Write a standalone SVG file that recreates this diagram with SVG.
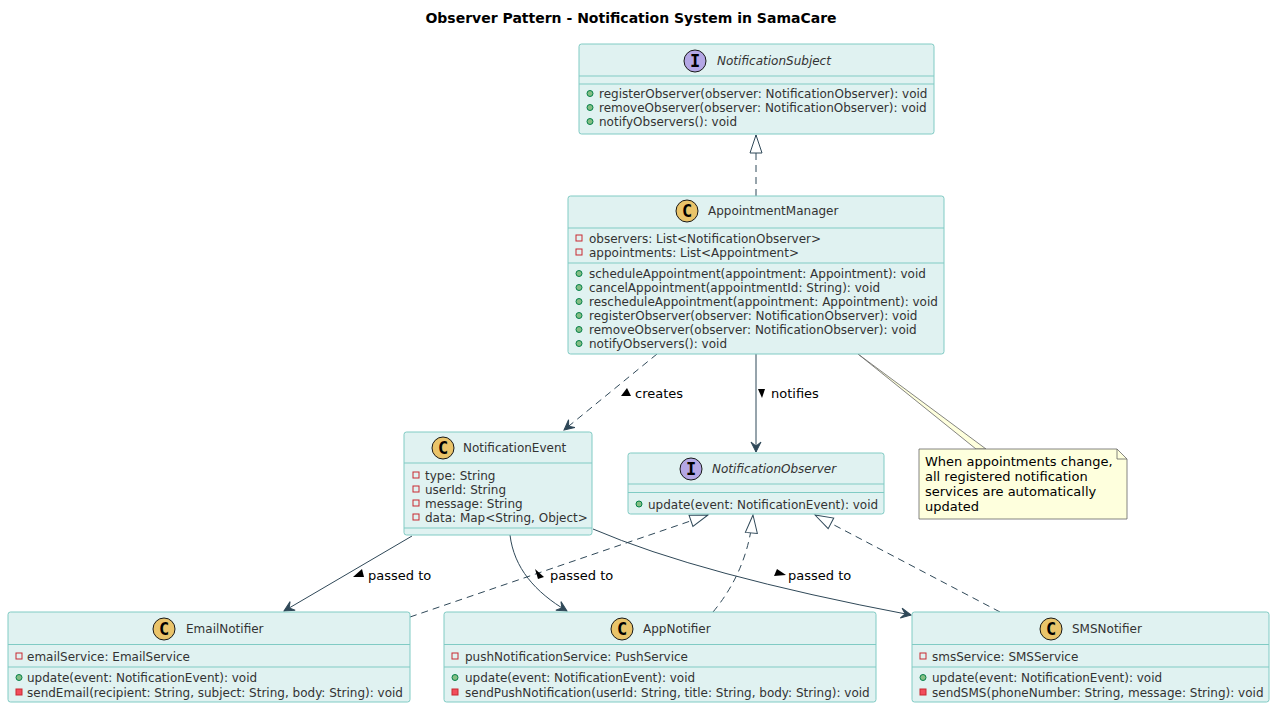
<svg xmlns="http://www.w3.org/2000/svg" width="1275" height="708" viewBox="0 0 1275 708">
<style>
.box{fill:#E0F2F1;stroke:#80CBC4;stroke-width:1}
.sep{stroke:#80CBC4;stroke-width:1}
.name{font-family:"DejaVu Sans",sans-serif;font-size:12px;fill:#333}
.ital{font-style:italic}
.mem{font-family:"DejaVu Sans",sans-serif;font-size:12px;fill:#333}
.pub{fill:#84BE84;stroke:#038048;stroke-width:1}
.privf{fill:none;stroke:#C82930;stroke-width:1}
.privm{fill:#F24D5C;stroke:#C82930;stroke-width:1}
.spotC{fill:#EAC46A;stroke:#181818;stroke-width:1}
.spotI{fill:#B4A7E5;stroke:#181818;stroke-width:1}
.spotL{font-family:"DejaVu Sans Mono",monospace;font-weight:bold;font-size:17px;fill:#000;text-anchor:middle}
.ln{fill:none;stroke:#2F4858;stroke-width:1}
.dash{stroke-dasharray:7,5}
.lbl{font-family:"DejaVu Sans",sans-serif;font-size:13px;fill:#000}
.tri{fill:#000}
</style>
<defs>
<marker id="arr" markerUnits="userSpaceOnUse" markerWidth="14" markerHeight="12" refX="11" refY="6" orient="auto" overflow="visible">
<path d="M11,6 L1,1 L5,6 L1,11 Z" fill="#2F4858" stroke="#2F4858" stroke-width="1"/>
</marker>
<marker id="real" markerUnits="userSpaceOnUse" markerWidth="22" markerHeight="16" refX="19" refY="7" orient="auto" overflow="visible">
<path d="M19,7 L1,1 L1,13 Z" fill="#fff" stroke="#2F4858" stroke-width="1"/>
</marker>
</defs>
<rect width="1275" height="708" fill="#fff"/>
<text x="631" y="23" font-family="DejaVu Sans,sans-serif" font-weight="bold" font-size="14" text-anchor="middle" fill="#000">Observer Pattern - Notification System in SamaCare</text>

<g id="connectors">
<path class="ln dash" d="M756,196 L756,135" marker-end="url(#real)"/>
<path class="ln dash" d="M657,354 L564,430" marker-end="url(#arr)"/>
<path class="ln" d="M756,354 L756,452" marker-end="url(#arr)"/>
<path class="ln" d="M412,536 L284,611" marker-end="url(#arr)"/>
<path class="ln" d="M510,535 C514,568 535,592 567,611" marker-end="url(#arr)"/>
<path class="ln" d="M593,529 Q700,575 911,615" marker-end="url(#arr)"/>
<path class="ln dash" d="M410,617 L708,515" marker-end="url(#real)"/>
<path class="ln dash" d="M713,612 Q748,570 753,515" marker-end="url(#real)"/>
<path class="ln dash" d="M1000,612 L815,515" marker-end="url(#real)"/>
<polygon points="858,354 976,449 986,449" fill="#FEFFDD" stroke="#666" stroke-width="0.8"/>
<polygon class="tri" points="621,396 627,388 631,396"/>
<text class="lbl" x="635" y="398">creates</text>
<polygon class="tri" points="758,389 765,389 762,398"/>
<text class="lbl" x="771" y="398">notifies</text>
<polygon class="tri" points="353,577 362,569 364,577"/>
<text class="lbl" x="368" y="580">passed to</text>
<polygon class="tri" points="535,569 544,577 538,579"/>
<text class="lbl" x="550" y="580">passed to</text>
<polygon class="tri" points="774,576 777,569 786,575"/>
<text class="lbl" x="788" y="580">passed to</text>
</g>

<g id="NotificationSubject">
<rect class="box" x="579" y="44" width="355" height="90" rx="2.5"/>
<circle class="spotI" cx="695" cy="61" r="11"/>
<text class="spotL" x="695" y="67">I</text>
<text class="name ital" x="717" y="65">NotificationSubject</text>
<line class="sep" x1="579" y1="76" x2="934" y2="76"/>
<line class="sep" x1="579" y1="84" x2="934" y2="84"/>
<circle class="pub" cx="590" cy="93.5" r="3"/>
<text class="mem" x="599" y="98">registerObserver(observer: NotificationObserver): void</text>
<circle class="pub" cx="590" cy="107.5" r="3"/>
<text class="mem" x="599" y="112">removeObserver(observer: NotificationObserver): void</text>
<circle class="pub" cx="590" cy="121.5" r="3"/>
<text class="mem" x="599" y="126">notifyObservers(): void</text>
</g>

<g id="AppointmentManager">
<rect class="box" x="568" y="196" width="376" height="158" rx="2.5"/>
<circle class="spotC" cx="687" cy="211" r="11"/>
<text class="spotL" x="687" y="217">C</text>
<text class="name" x="708" y="215">AppointmentManager</text>
<line class="sep" x1="568" y1="228" x2="944" y2="228"/>
<rect class="privf" x="576" y="235" width="6" height="6"/>
<text class="mem" x="589" y="242.5">observers: List&lt;NotificationObserver&gt;</text>
<rect class="privf" x="576" y="249" width="6" height="6"/>
<text class="mem" x="589" y="256.5">appointments: List&lt;Appointment&gt;</text>
<line class="sep" x1="568" y1="263" x2="944" y2="263"/>
<circle class="pub" cx="579" cy="273.5" r="3"/>
<text class="mem" x="589" y="278">scheduleAppointment(appointment: Appointment): void</text>
<circle class="pub" cx="579" cy="287.5" r="3"/>
<text class="mem" x="589" y="292">cancelAppointment(appointmentId: String): void</text>
<circle class="pub" cx="579" cy="301.5" r="3"/>
<text class="mem" x="589" y="306">rescheduleAppointment(appointment: Appointment): void</text>
<circle class="pub" cx="579" cy="315.5" r="3"/>
<text class="mem" x="589" y="320">registerObserver(observer: NotificationObserver): void</text>
<circle class="pub" cx="579" cy="329.5" r="3"/>
<text class="mem" x="589" y="334">removeObserver(observer: NotificationObserver): void</text>
<circle class="pub" cx="579" cy="343.5" r="3"/>
<text class="mem" x="589" y="348">notifyObservers(): void</text>
</g>

<g id="NotificationEvent">
<rect class="box" x="404" y="432" width="188" height="103" rx="2.5"/>
<circle class="spotC" cx="443" cy="448" r="11"/>
<text class="spotL" x="443" y="454">C</text>
<text class="name" x="463" y="452">NotificationEvent</text>
<line class="sep" x1="404" y1="463" x2="592" y2="463"/>
<rect class="privf" x="413" y="472" width="6" height="6"/>
<text class="mem" x="425" y="479.5">type: String</text>
<rect class="privf" x="413" y="486" width="6" height="6"/>
<text class="mem" x="425" y="493.5">userId: String</text>
<rect class="privf" x="413" y="500" width="6" height="6"/>
<text class="mem" x="425" y="507.5">message: String</text>
<rect class="privf" x="413" y="514" width="6" height="6"/>
<text class="mem" x="425" y="521.5">data: Map&lt;String, Object&gt;</text>
<line class="sep" x1="404" y1="528" x2="592" y2="528"/>
</g>

<g id="NotificationObserver">
<rect class="box" x="628" y="453" width="256" height="61" rx="2.5"/>
<circle class="spotI" cx="691" cy="469" r="11"/>
<text class="spotL" x="691" y="475">I</text>
<text class="name ital" x="712" y="473">NotificationObserver</text>
<line class="sep" x1="628" y1="484" x2="884" y2="484"/>
<line class="sep" x1="628" y1="492.5" x2="884" y2="492.5"/>
<circle class="pub" cx="639" cy="504" r="3"/>
<text class="mem" x="648" y="508.5">update(event: NotificationEvent): void</text>
</g>

<g id="Note">
<path d="M919,449 L1117,449 L1127,459 L1127,519 L919,519 Z" fill="#FEFFDD" stroke="#666" stroke-width="0.8"/>
<path d="M1117,449 L1117,459 L1127,459" fill="none" stroke="#666" stroke-width="0.8"/>
<text class="lbl" x="925" y="466">When appointments change,</text>
<text class="lbl" x="925" y="481">all registered notification</text>
<text class="lbl" x="925" y="496">services are automatically</text>
<text class="lbl" x="925" y="511">updated</text>
</g>

<g id="EmailNotifier">
<rect class="box" x="8" y="612" width="402" height="90" rx="2.5"/>
<circle class="spotC" cx="164" cy="629" r="11"/>
<text class="spotL" x="164" y="635">C</text>
<text class="name" x="186" y="633">EmailNotifier</text>
<line class="sep" x1="8" y1="644.5" x2="410" y2="644.5"/>
<rect class="privf" x="16" y="653" width="6" height="6"/>
<text class="mem" x="27" y="660.5">emailService: EmailService</text>
<line class="sep" x1="8" y1="667" x2="410" y2="667"/>
<circle class="pub" cx="19" cy="677.5" r="3"/>
<text class="mem" x="27" y="682">update(event: NotificationEvent): void</text>
<rect class="privm" x="16" y="689" width="6" height="6"/>
<text class="mem" x="27" y="696.5">sendEmail(recipient: String, subject: String, body: String): void</text>
</g>

<g id="AppNotifier">
<rect class="box" x="444" y="612" width="432" height="90" rx="2.5"/>
<circle class="spotC" cx="622" cy="629" r="11"/>
<text class="spotL" x="622" y="635">C</text>
<text class="name" x="643" y="633">AppNotifier</text>
<line class="sep" x1="444" y1="644.5" x2="876" y2="644.5"/>
<rect class="privf" x="452" y="653" width="6" height="6"/>
<text class="mem" x="465" y="660.5">pushNotificationService: PushService</text>
<line class="sep" x1="444" y1="667" x2="876" y2="667"/>
<circle class="pub" cx="455" cy="677.5" r="3"/>
<text class="mem" x="465" y="682">update(event: NotificationEvent): void</text>
<rect class="privm" x="452" y="689" width="6" height="6"/>
<text class="mem" x="465" y="696.5">sendPushNotification(userId: String, title: String, body: String): void</text>
</g>

<g id="SMSNotifier">
<rect class="box" x="912" y="612" width="357" height="90" rx="2.5"/>
<circle class="spotC" cx="1051" cy="629" r="11"/>
<text class="spotL" x="1051" y="635">C</text>
<text class="name" x="1072" y="633">SMSNotifier</text>
<line class="sep" x1="912" y1="644.5" x2="1269" y2="644.5"/>
<rect class="privf" x="920" y="653" width="6" height="6"/>
<text class="mem" x="932" y="660.5">smsService: SMSService</text>
<line class="sep" x1="912" y1="667" x2="1269" y2="667"/>
<circle class="pub" cx="923" cy="677.5" r="3"/>
<text class="mem" x="932" y="682">update(event: NotificationEvent): void</text>
<rect class="privm" x="920" y="689" width="6" height="6"/>
<text class="mem" x="932" y="696.5">sendSMS(phoneNumber: String, message: String): void</text>
</g>
</svg>
